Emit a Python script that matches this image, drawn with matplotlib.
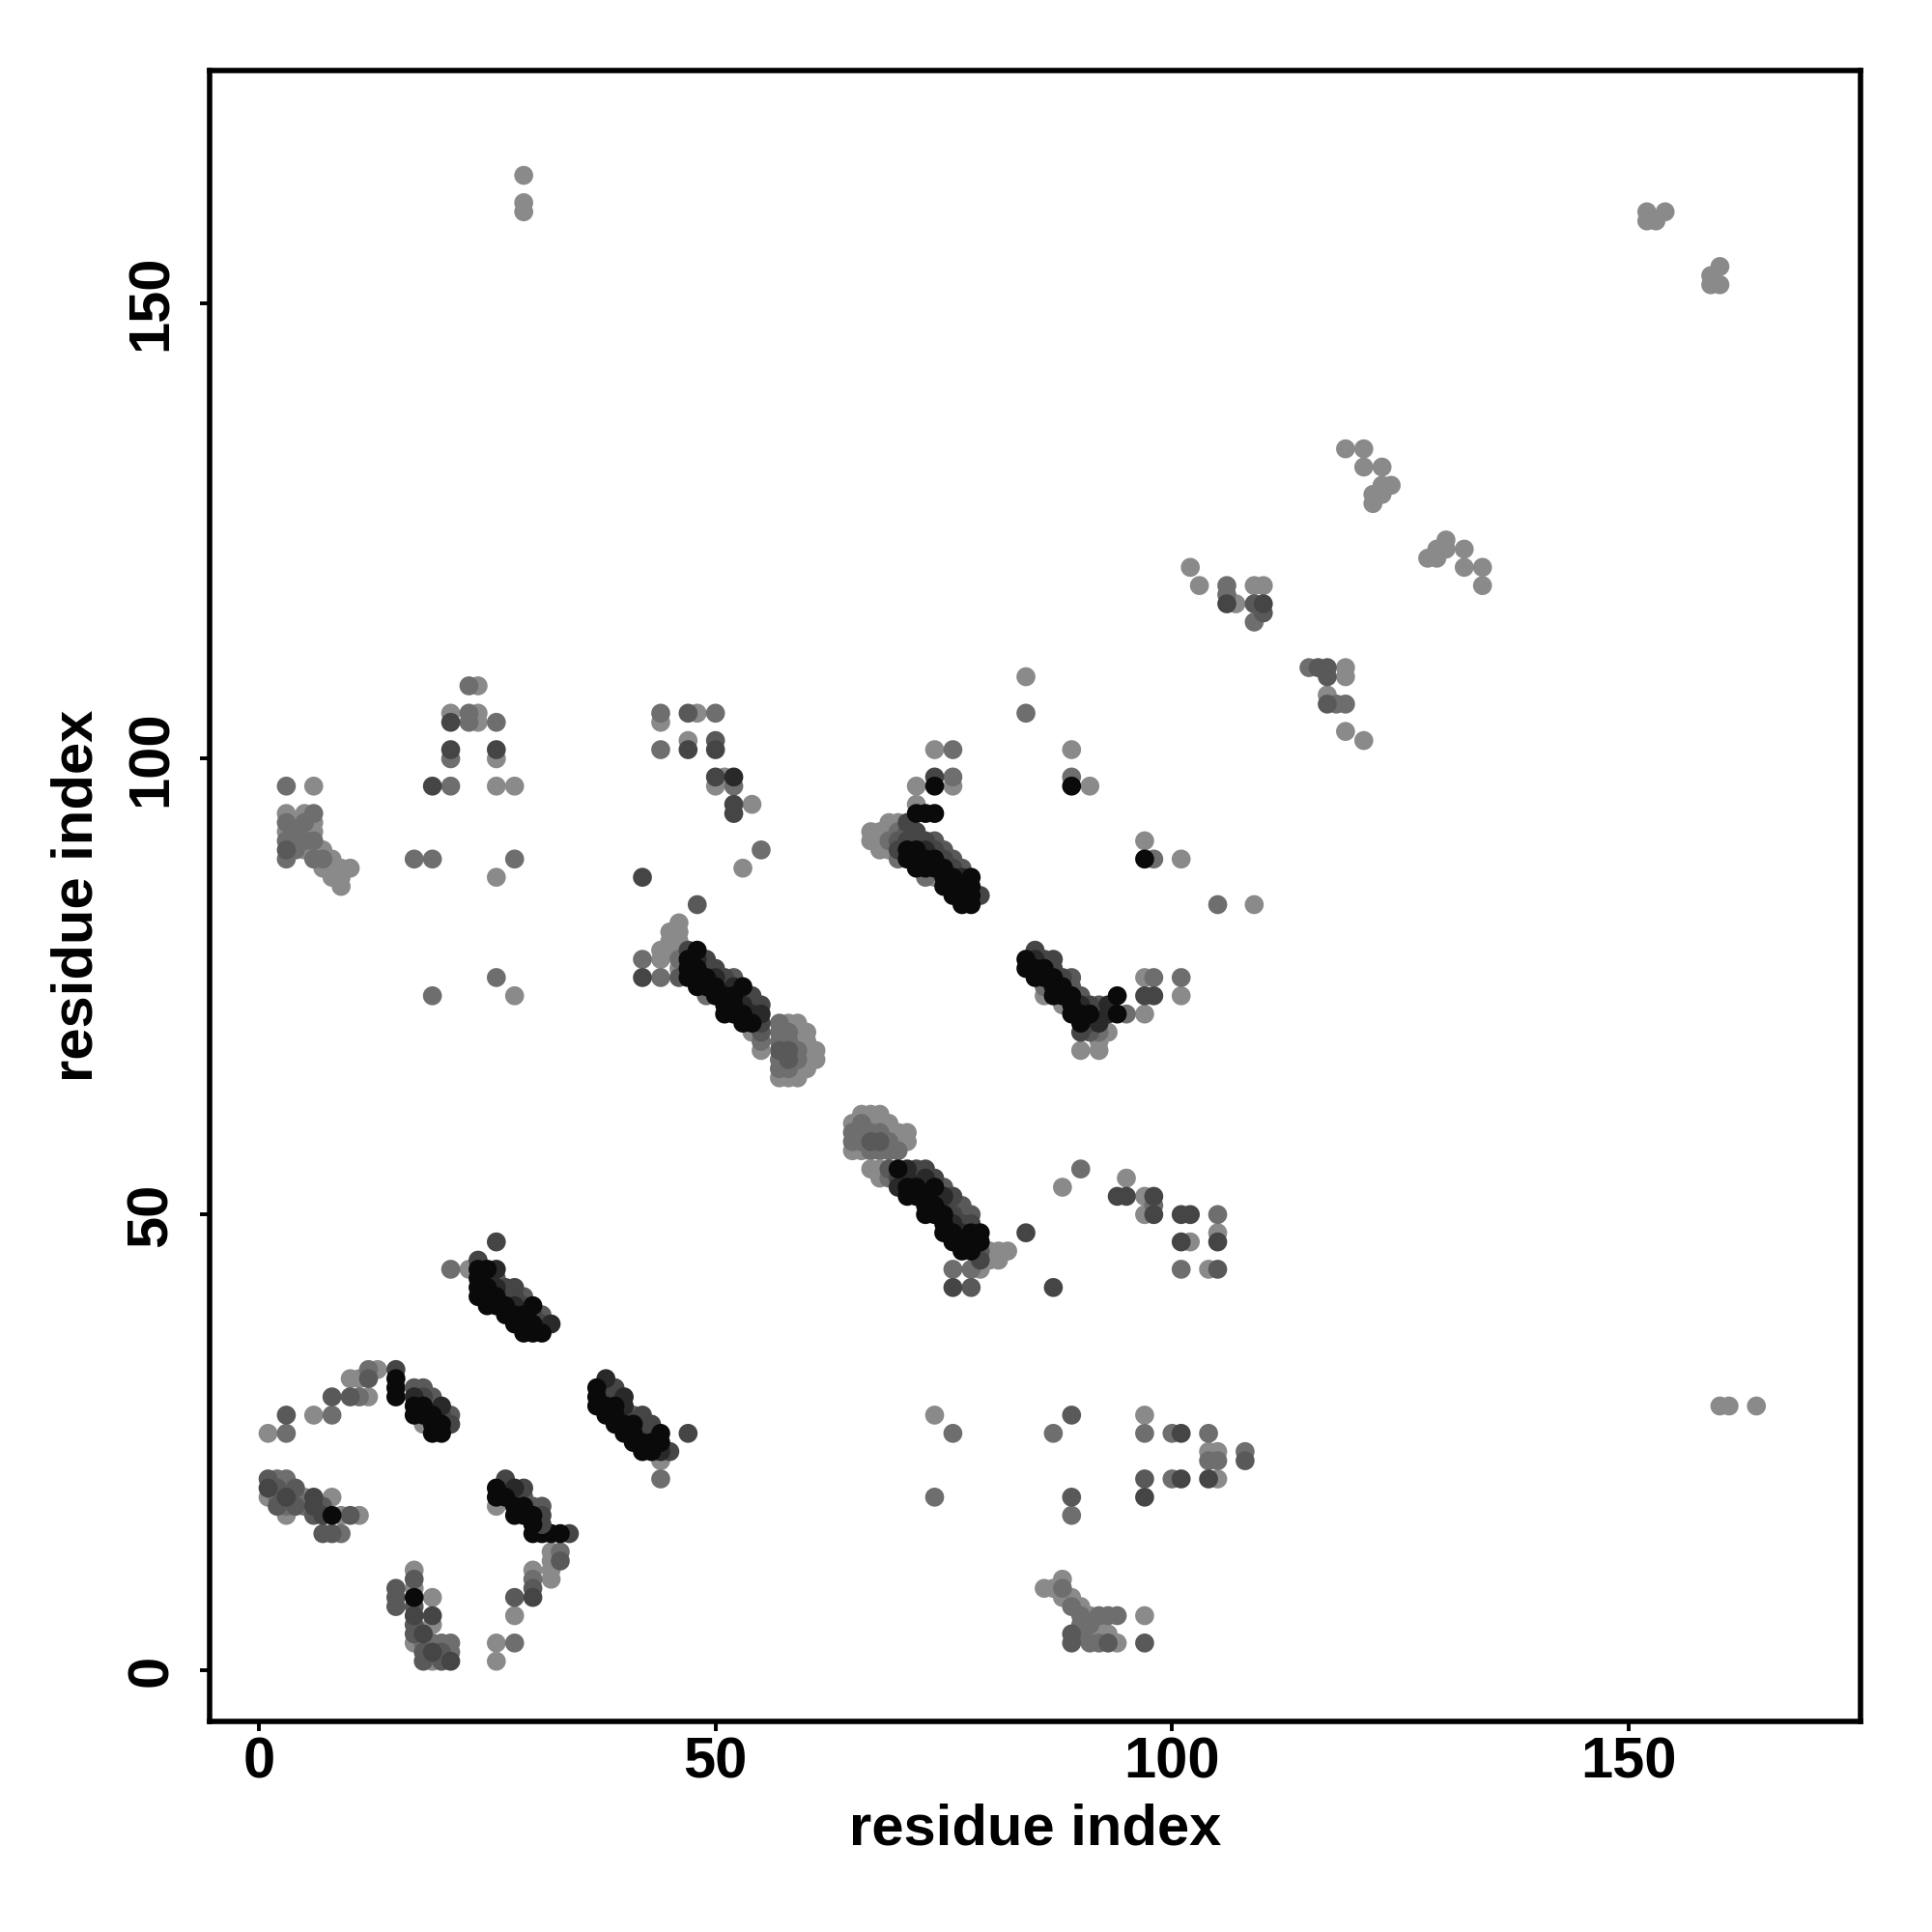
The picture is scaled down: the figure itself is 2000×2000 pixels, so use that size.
import matplotlib
matplotlib.use("Agg")
import matplotlib.pyplot as plt

# contact level: 0 = strongest (black) ... 5 = weakest (light gray)
arc_a = [(1,26,5),(3,26,4),(3,28,3),(6,28,5),(8,28,4),(8,30,3),(10,30,3),(11,30,4),(12,30,5),
         (10,32,5),(11,32,5),(12,32,3),(12,33,4),(13,33,5),(15,30,0),(15,31,0),(15,32,0),(15,33,2)]

strand_b = [(18,27,5),(17,28,0),(17,29,0),(17,30,1),(17,31,3),(18,28,0),(18,29,0),(18,30,2),(18,31,3),
            (19,26,0),(19,27,0),(19,28,0),(19,29,3),(19,30,3),(20,26,0),(20,27,0),(20,28,2),(20,29,1),
            (21,27,2),(21,28,3)]

cluster_c = [(1,21,3),(2,21,4),(3,21,4),(1,20,2),(2,20,3),(3,20,4),(4,20,3),
             (1,19,5),(2,19,4),(3,19,2),(4,19,4),(5,19,5),(6,19,2),(8,19,5),
             (2,18,3),(3,18,4),(4,18,3),(5,18,4),(6,18,2),(7,18,3),
             (3,17,5),(6,17,3),(7,17,2),(8,17,0),(9,17,5),(10,17,3),(11,17,5),
             (7,15,3),(8,15,3),(9,15,4)]

cluster_d = [(15,7,3),(15,8,3),(15,9,3),(17,11,5),(17,10,3),(17,9,5),(17,8,0),(17,7,3),(17,6,2),
             (17,5,3),(17,4,3),(17,3,5),(18,4,2),(18,3,4),(18,2,3),(18,1,3),(19,8,5),(19,6,2),
             (19,5,5),(19,3,4),(19,2,2),(19,1,5),(20,3,4),(20,2,3),(20,1,3),(21,3,4),(21,2,4),(21,1,2)]

cluster_e = [(26,1,5),(26,3,5),(28,3,4),(28,6,5),(28,8,3),(30,8,2),(30,9,3),(30,10,4),(30,11,5),
             (32,10,5),(32,11,5),(32,12,5),(33,12,3),(33,13,4),(32,13,5),
             (30,15,0),(31,15,0),(32,15,0),(33,15,0),(34,15,2)]

strand_f = [(26,18,5),(26,19,0),(26,20,0),(27,19,0),(27,20,2),(27,21,2),(28,17,0),(28,18,0),(28,19,2),
            (28,20,1),(29,17,0),(29,18,0),(29,19,3),(29,20,2),(30,16,0),(30,17,0),(30,18,3),
            (31,16,2),(31,17,2),(31,18,3)]

strand_g = [(37,29,0),(37,30,0),(37,31,0),(38,28,0),(38,29,0),(38,30,2),(38,31,2),(38,32,1),
            (39,27,0),(39,28,0),(39,29,0),(39,30,3),(39,31,2),(40,26,0),(40,27,0),(40,28,2),(40,29,1),
            (40,30,1),(41,25,0),(41,26,0),(41,27,0),(41,28,3),(42,24,0),(42,25,0),(42,26,2),(42,27,2),
            (42,28,2),(43,24,0),(43,25,0),(43,26,3),(43,27,2),(44,23,5),(44,24,1),(44,25,0),(44,26,0),
            (45,24,2),(44,21,4),(47,26,2)]

strand_h = [(21,44,4),(23,44,5),(26,47,2),(24,41,0),(24,42,0),(24,43,0),(24,44,0),(24,45,2),
            (25,40,0),(25,41,0),(25,42,0),(25,43,1),(25,44,0),(26,40,0),(26,41,0),(26,42,1),(26,43,3),
            (26,44,1),(27,39,0),(27,40,0),(27,41,2),(27,42,2),(28,38,0),(28,39,0),(28,40,1),(28,41,2),
            (28,42,2),(29,37,0),(29,38,0),(29,39,0),(29,40,2),(29,41,3),(30,37,0),(30,38,0),(30,39,2),
            (30,40,0),(31,37,0),(31,38,2),(31,39,3),(32,38,1)]

scatter_low_right = [(74,28,5),(76,26,4),(74,19,4),(87,26,4),(89,28,3),(89,19,3),(89,17,4),
                     (97,28,5),(97,26,4),(100,26,4),(101,26,2),(104,26,4),(104,24,5),(105,24,5),
                     (104,23,4),(105,23,4),(108,24,4),(108,23,3),(97,21,3),(97,19,2),(100,21,4),
                     (101,21,2),(104,21,2),(105,21,5)]

cluster_bottom = [(86,9,5),(87,9,5),(88,10,5),(88,9,4),(88,8,5),(89,8,5),(89,7,4),(90,7,5),(90,6,4),
                  (91,6,5),(91,5,4),(92,6,4),(92,5,5),(93,6,4),(94,6,4),(89,4,3),(89,3,3),(90,4,4),
                  (91,4,5),(91,3,4),(92,4,5),(92,3,4),(93,3,3),(93,4,5),(94,3,5),(97,6,5),(97,3,3),(90,5,4)]

strand_i = [(76,44,4),(76,42,2),(78,42,3),(87,42,2),(84,48,2),(88,53,5),(90,55,4),
            (67,55,5),(68,54,5),(68,55,5),(69,54,4),(69,55,3),(70,53,1),(70,54,2),(70,55,0),
            (71,52,0),(71,53,0),(71,54,1),(71,55,1),(72,52,0),(72,53,0),(72,54,2),(72,55,2),
            (73,50,0),(73,51,0),(73,52,0),(73,53,1),(73,54,1),(73,55,2),(74,50,0),(74,51,0),(74,52,1),
            (74,53,0),(74,54,2),(75,48,0),(75,49,0),(75,50,0),(75,51,2),(75,52,1),(75,53,3),
            (76,47,0),(76,48,0),(76,49,1),(76,50,2),(76,51,3),(76,52,2),(77,46,0),(77,47,0),(77,48,1),
            (77,49,2),(77,50,3),(77,51,3),(78,46,0),(78,47,0),(78,48,0),(78,49,2),(78,50,3),
            (79,45,2),(79,46,3),(79,47,0),(79,48,0),(78,44,4),(79,44,5),(80,45,5),(80,46,5),
            (81,45,5),(81,46,5),(82,46,5)]

blob_n = [(65,57,5),(65,58,4),(65,59,4),(65,60,5),(66,57,5),(66,58,4),(66,59,4),(66,60,4),(66,61,5),
          (67,57,4),(67,58,3),(67,59,4),(67,60,5),(67,61,5),(68,57,4),(68,58,3),(68,59,4),(68,60,5),
          (68,61,5),(69,57,4),(69,58,4),(69,59,5),(69,60,5),(70,57,4),(70,58,5),(70,59,5),(71,58,5),(71,59,5)]

strand_j = [(42,78,4),(42,76,2),(44,76,4),(44,78,5),(44,79,5),(45,79,5),(45,80,5),(45,81,5),
            (46,76,3),(46,77,5),(46,78,4),(46,79,5),(46,80,5),(46,81,5),(46,82,5),
            (47,76,0),(47,77,0),(47,78,0),(47,79,2),(48,75,0),(48,76,0),(48,77,0),(48,78,1),(48,79,0),
            (49,74,4),(49,75,0),(49,76,0),(49,77,2),(49,78,2),(50,74,0),(50,75,0),(50,76,1),(50,77,2),
            (51,72,0),(51,73,0),(51,74,0),(51,75,2),(51,76,2),(52,72,0),(52,73,0),(52,74,0),(52,75,1),
            (52,76,3),(53,71,0),(53,72,0),(53,73,1),(53,74,2),(53,75,0),(54,70,5),(54,71,0),(54,72,1),
            (54,73,2),(54,74,2),(55,68,5),(55,69,4),(55,70,3),(55,71,2),(55,72,1),(55,73,2)]

blob_m = [(57,65,5),(57,66,4),(57,67,4),(57,68,3),(57,69,4),(57,70,4),(57,71,4),
          (58,65,5),(58,66,4),(58,67,3),(58,68,3),(58,69,4),(58,70,4),(58,71,5),
          (59,65,5),(59,66,5),(59,67,4),(59,68,4),(59,69,5),(59,70,5),(59,71,5),
          (60,66,5),(60,67,5),(60,68,5),(60,69,5),(60,70,5),(61,67,5),(61,68,5)]

strand_k = [(67,91,5),(67,92,5),(68,90,5),(68,91,5),(68,92,5),(69,90,5),(69,91,4),(69,92,5),(69,93,5),
            (70,89,4),(70,90,2),(70,91,3),(70,92,4),(70,93,5),(71,89,0),(71,90,0),(71,91,2),(71,92,3),
            (71,93,2),(72,88,0),(72,89,0),(72,90,0),(72,91,2),(72,92,2),(72,94,0),(72,95,5),
            (73,87,4),(73,88,0),(73,89,0),(73,90,1),(73,91,2),(73,94,0),(74,87,5),(74,88,0),(74,89,0),
            (74,90,2),(74,91,3),(74,94,0),(75,86,0),(75,87,0),(75,88,0),(75,89,2),(75,90,3),
            (76,85,0),(76,86,0),(76,87,0),(76,88,2),(76,89,3),(77,84,0),(77,85,0),(77,86,0),(77,87,1),
            (77,88,3),(78,84,0),(78,85,0),(78,86,0),(78,87,0),(79,85,2)]

strand_l = [(84,77,0),(84,78,0),(85,76,0),(85,77,0),(85,78,1),(85,79,2),(86,74,5),(86,75,4),(86,76,0),
            (86,77,0),(86,78,2),(87,74,0),(87,75,0),(87,76,0),(87,77,2),(87,78,2),(88,73,5),(88,74,0),
            (88,75,0),(88,76,2),(89,72,0),(89,73,0),(89,74,0),(89,75,3),(89,76,3),(90,70,2),(90,71,0),
            (90,72,0),(90,73,1),(90,74,3),(91,70,3),(91,71,2),(91,72,0),(91,73,2),(92,69,5),(92,70,4),
            (92,71,1),(92,72,3),(92,73,3),(93,72,1),(93,73,1),(90,68,5),(92,68,5),(93,70,5),
            (94,72,0),(94,74,0),(95,72,4),(97,72,5),(97,74,2),(97,76,5),(98,74,2),(98,76,4),
            (101,74,5),(101,76,4)]

scatter_mid = [(97,91,5),(97,89,0),(98,89,4),(101,89,5),(105,84,4),(109,84,5),
               (95,54,5),(94,52,2),(95,52,2),(97,52,5),(98,52,2),(97,50,5),(98,51,4),(98,50,2),
               (101,50,2),(102,50,2),(105,50,4),(101,47,2),(102,47,5),(105,48,5),(105,47,2),
               (101,44,4),(104,44,5),(105,44,3),(84,109,5),(84,105,4)]

scatter_upper_left = [(47,105,3),(48,105,5),(50,105,4),(47,102,5),(47,101,2),(50,102,3),(50,101,2),
                      (50,98,2),(51,98,5),(52,98,1),(50,97,5),(52,97,4),(52,95,2),(52,94,2),(54,95,5),
                      (55,90,4),(53,88,5),(48,84,3),
                      (74,101,5),(76,101,4),(74,98,2),(74,97,0),(76,98,4),(76,97,5),(72,97,5),
                      (89,101,5),(89,98,4),(89,97,0),(91,97,5),
                      (23,108,4),(24,108,5),(21,105,5),(21,104,2),(23,105,4),(24,105,5),(23,104,4),
                      (24,104,5),(26,104,4),(21,101,2),(21,100,4),(26,101,2),(26,100,5),(19,97,2),
                      (21,97,4),(26,97,5),(28,97,5),(17,89,4),(19,89,4),(28,89,4),(26,87,5),
                      (42,87,2),(19,74,4),(26,76,4),(28,74,5),(44,105,4),(44,104,5),(44,101,4)]

cluster_top_left = [(3,89,4),(3,90,3),(3,91,4),(3,92,5),(3,93,4),(3,94,5),(4,90,4),(4,91,5),(4,92,4),
                    (4,93,5),(5,90,5),(5,91,4),(5,92,5),(5,93,4),(5,94,5),(6,89,4),(6,90,5),(6,91,4),
                    (6,92,5),(6,93,5),(6,94,4),(7,88,5),(7,89,4),(7,90,5),(8,87,5),(8,88,5),(8,89,5),
                    (9,86,5),(9,87,5),(9,88,5),(10,88,5),(3,97,4),(6,97,5)]

scatter_upper_right = [(102,121,5),(103,119,5),(106,119,4),(106,118,4),(106,117,2),(107,117,5),
                       (109,119,5),(110,119,5),(109,117,3),(110,117,2),(110,116,3),(109,115,4),
                       (119,134,5),(121,134,5),(121,132,5),(123,132,5),(123,130,5),(124,130,5),
                       (122,129,5),(122,128,5),(123,129,5),
                       (128,122,5),(129,122,5),(129,123,5),(130,124,5),(130,123,5),(132,123,5),
                       (132,121,5),(134,121,5),(134,119,5),
                       (115,110,4),(116,110,3),(117,110,3),(117,109,3),(119,110,5),(119,109,5),
                       (117,107,5),(117,106,3),(118,106,4),(119,106,4),(119,103,5),(121,102,5)]

scatter_far = [(29,164,5),(29,161,5),(29,160,5),
               (152,160,5),(152,159,5),(153,159,5),(154,160,5),
               (160,154,5),(159,153,5),(159,152,5),(160,152,5),
               (160,29,5),(161,29,5),(164,29,5)]

level_gray = [0.04, 0.16, 0.27, 0.35, 0.43, 0.54]

groups = [cluster_top_left, scatter_upper_left, scatter_upper_right, scatter_far, scatter_mid,
          scatter_low_right, cluster_bottom, arc_a, cluster_c, cluster_d, cluster_e,
          blob_m, blob_n, strand_b, strand_f, strand_g, strand_h, strand_i, strand_j,
          strand_k, strand_l]

fig = plt.figure(figsize=(10, 10), dpi=200)
ax = fig.add_axes([0.1085, 0.109, 0.8545, 0.8545])

for grp in groups:
    # draw lighter contacts first so stronger contacts sit on top
    pts = sorted(grp, key=lambda p: -p[2])
    xs = [p[0] for p in pts]
    ys = [p[1] for p in pts]
    cs = [str(level_gray[p[2]]) for p in pts]
    ax.scatter(xs, ys, s=50, c=cs, linewidths=0, zorder=3)

ax.set_xlim(-5.4, 175.4)
ax.set_ylim(-5.6, 175.5)
ax.set_xticks([0, 50, 100, 150])
ax.set_yticks([0, 50, 100, 150])

font = dict(family='Liberation Sans', weight='bold', size=21.5)
ax.set_xticklabels(['0', '50', '100', '150'], fontdict=font)
ax.set_yticklabels(['0', '50', '100', '150'], fontdict=font, rotation=90, va='center')
ax.tick_params(axis='both', direction='out', length=3.6, width=1.4, color='black')
ax.tick_params(axis='x', pad=2)
ax.tick_params(axis='y', pad=8)
for sp in ax.spines.values():
    sp.set_linewidth(2.0)
ax.set_xlabel('residue index', fontdict=font, labelpad=5)
ax.set_ylabel('residue index', fontdict=font, labelpad=8)

fig.savefig('out.png', dpi=200, facecolor='white')
